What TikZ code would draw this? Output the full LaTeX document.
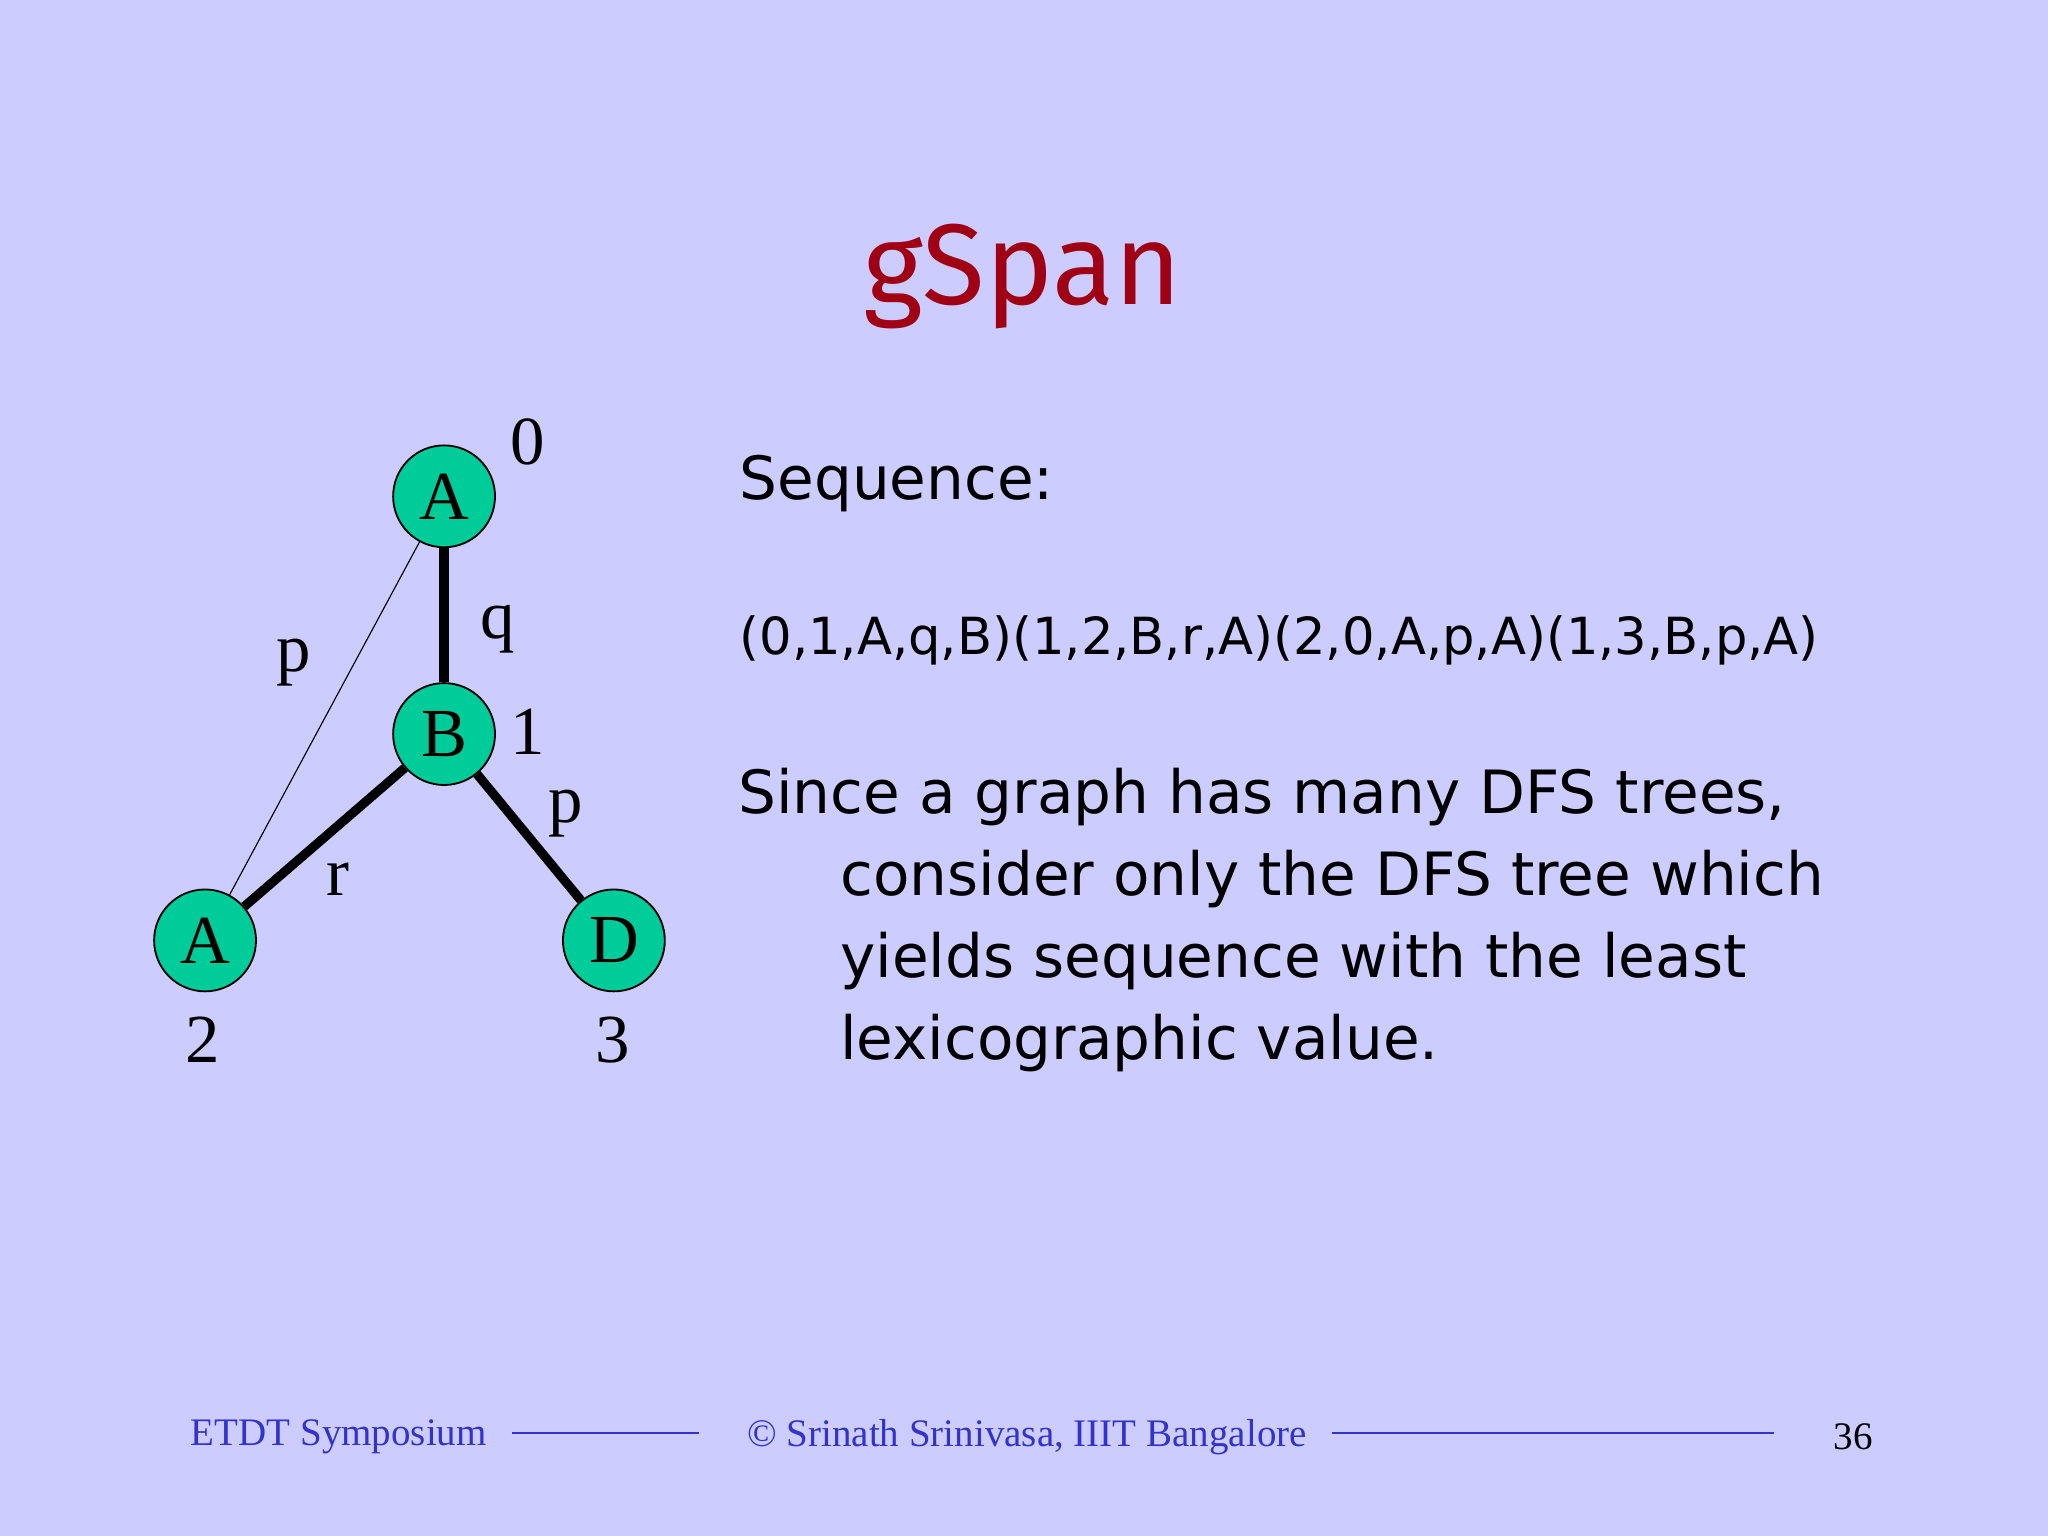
\documentclass[tikz,border=0pt]{standalone}
\usepackage{fontspec}
\setmainfont{Liberation Serif}
\newfontfamily\bodyfont{DejaVu Sans}
\newfontfamily\titlefont{Fira Sans}
\definecolor{bg}{RGB}{204,204,255}
\definecolor{nodefill}{RGB}{0,204,153}
\definecolor{titlered}{RGB}{160,0,20}
\definecolor{footblue}{RGB}{51,51,204}
\begin{document}
\begin{tikzpicture}[x=0.02cm,y=-0.02cm,
  vert/.style={circle,draw=black,line width=0.8pt,fill=nodefill,minimum size=78*0.02cm,inner sep=0pt,font=\fontsize{30}{30}\selectfont},
  lbl/.style={font=\fontsize{30}{30}\selectfont},
  heavy/.style={line width=4pt},
  light/.style={line width=0.5pt},
  body/.style={anchor=west,font=\bodyfont\fontsize{26}{35.7}\selectfont},
  foot/.style={font=\fontsize{17}{17}\selectfont,text=footblue}]
\fill[bg] (0,0) rectangle (1568,1176);
\useasboundingbox (0,0) rectangle (1568,1176);
\node[font=\titlefont\fontsize{50}{50}\selectfont,text=titlered] (title) at (783,212) {gSpan};
\node[vert] (n0) at (340,380) {A};
\node[vert] (n1) at (340,562) {B};
\node[vert] (n2) at (157,720) {A};
\node[vert] (n3) at (470,720) {D};
\draw[heavy] (n0) -- (n1);
\draw[heavy] (n1) -- (n2);
\draw[heavy] (n1) -- (n3);
\draw[light] (n0) -- (n2);
\node[lbl] (l0) at (404,338) {0};
\node[lbl] (l1) at (404,560) {1};
\node[lbl] (l2) at (155,796) {2};
\node[lbl] (l3) at (469,796) {3};
\node[lbl] (eq) at (381,482) {q};
\node[lbl] (ep) at (225,507) {p};
\node[lbl] (ep2) at (433,623) {p};
\node[lbl] (er) at (259,673) {r};
\node[body] (seq) at (560,370) {Sequence:};
\node[body,font=\bodyfont\fontsize{22.3}{22.3}\selectfont] (code) at (560,490) {(0,1,A,q,B)(1,2,B,r,A)(2,0,A,p,A)(1,3,B,p,A)};
\node[body,anchor=north west,align=left,inner sep=0pt] (since) at (565,588) {Since a graph has many DFS trees,\\
\hspace*{78\dimexpr0.02cm\relax}consider only the DFS tree which\\
\hspace*{78\dimexpr0.02cm\relax}yields sequence with the least\\
\hspace*{78\dimexpr0.02cm\relax}lexicographic value.};
\node[foot,anchor=west] (f1) at (140,1100) {ETDT Symposium};
\node[foot,anchor=west] (f2) at (566,1100) {\textcopyright{} Srinath Srinivasa, IIIT Bangalore};
\node[foot,text=black] (f3) at (1419,1100) {36};
\coordinate (a1) at (392,1097); \coordinate (a2) at (535,1097);
\coordinate (b1) at (1020,1097); \coordinate (b2) at (1358,1097);
\draw[footblue,line width=0.8pt] (a1) -- (a2);
\draw[footblue,line width=0.8pt] (b1) -- (b2);
\end{tikzpicture}
\end{document}
